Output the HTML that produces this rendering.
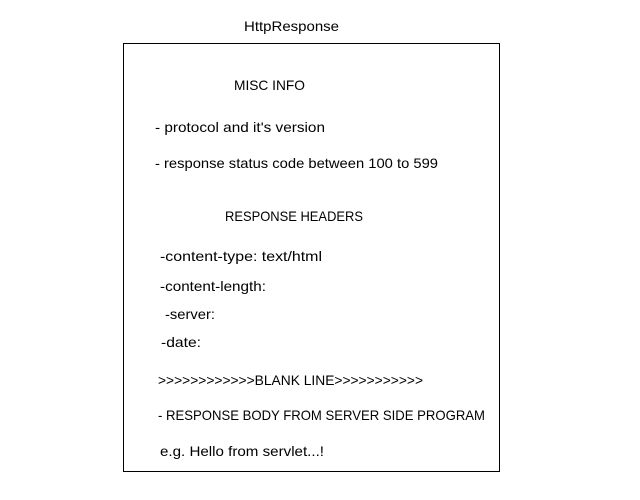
<!DOCTYPE html>
<html><head><meta charset="utf-8"><style>
html,body{margin:0;padding:0;background:#fff;}
svg{display:block;}
text{font-family:"Liberation Sans","DejaVu Sans",sans-serif;font-size:14px;fill:#000;}
</style></head><body>
<svg width="640" height="500" viewBox="0 0 640 500" xmlns="http://www.w3.org/2000/svg">
<rect x="123.5" y="43.5" width="376" height="428" fill="#fff" stroke="#000" stroke-width="1"/>
<text x="244" y="31" textLength="95" lengthAdjust="spacingAndGlyphs">HttpResponse</text>
<text x="234" y="90" textLength="71" lengthAdjust="spacingAndGlyphs">MISC INFO</text>
<text x="155" y="132" textLength="170" lengthAdjust="spacingAndGlyphs">- protocol and it's version</text>
<text x="155" y="168" textLength="283" lengthAdjust="spacingAndGlyphs">- response status code between 100 to 599</text>
<text x="225" y="221" textLength="138" lengthAdjust="spacingAndGlyphs">RESPONSE HEADERS</text>
<text x="160" y="261" textLength="162" lengthAdjust="spacingAndGlyphs">-content-type: text/html</text>
<text x="160" y="291" textLength="106" lengthAdjust="spacingAndGlyphs">-content-length:</text>
<text x="165" y="319" textLength="50" lengthAdjust="spacingAndGlyphs">-server:</text>
<text x="161" y="347" textLength="40" lengthAdjust="spacingAndGlyphs">-date:</text>
<text x="158" y="385" textLength="265" lengthAdjust="spacingAndGlyphs">&gt;&gt;&gt;&gt;&gt;&gt;&gt;&gt;&gt;&gt;&gt;&gt;BLANK LINE&gt;&gt;&gt;&gt;&gt;&gt;&gt;&gt;&gt;&gt;&gt;</text>
<text x="158" y="420" textLength="327" lengthAdjust="spacingAndGlyphs">- RESPONSE BODY FROM SERVER SIDE PROGRAM</text>
<text x="160" y="456" textLength="164" lengthAdjust="spacingAndGlyphs">e.g. Hello from servlet...!</text>
</svg>
</body></html>
